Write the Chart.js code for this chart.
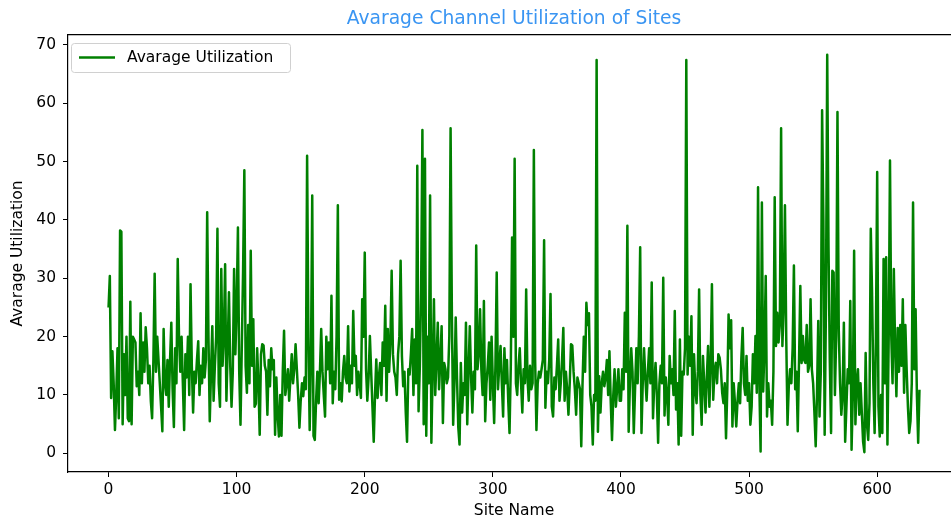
<!DOCTYPE html>
<html>
<head>
<meta charset="utf-8">
<script src="https://cdn.jsdelivr.net/npm/chart.js@4.4.1/dist/chart.umd.min.js"></script>
<style>
  html, body { margin: 0; padding: 0; background: #fff; overflow: hidden; }
  #wrap { width: 951px; height: 523px; overflow: hidden; }
</style>
</head>
<body>
<div id="wrap"><canvas id="chart" width="964" height="523"></canvas></div>
<script>
const seriesLabel = 'Avarage Utilization';
const chartTitle = 'Avarage Channel Utilization of Sites';
const xTitle = 'Site Name';
const yTitle = 'Avarage Utilization';
const xTicks = [0, 100, 200, 300, 400, 500, 600];
const yTicks = [0, 10, 20, 30, 40, 50, 60, 70];

// utilization per site, sites numbered 0..633
const utilization = [
  25, 30.4, 9.5, 17.5, 12, 4, 10, 18, 6, 38.2, 38, 5, 17, 10, 20, 6, 5.5, 26, 5, 20,
  19.5, 19, 11.5, 14, 10, 24, 12, 19, 14, 21.6, 18, 12, 15, 9, 6, 16, 30.8, 14, 20, 16,
  12, 8, 3.8, 21.3, 12, 10, 16, 8, 16, 22.4, 11, 4.5, 18, 12, 33.3, 20, 14,
  20, 12, 4, 17, 13, 20, 10, 29, 15, 7, 14, 12, 16, 19.2, 10, 15, 12, 18, 13, 16,
  41.3, 20, 5.5, 14, 21.8, 9, 15, 20, 38.5, 12, 8, 31.6, 15, 20, 32.4, 9, 18, 27.6, 15, 8,
  14, 31.6, 17, 25, 38.7, 14, 4.9, 18, 31, 48.5, 15, 10.4, 22, 12, 34.7, 15, 23, 8, 8.5, 18,
  12, 3.2, 17, 18.7, 18.5, 15,
  14, 6.6, 16, 11.5, 18, 14.4, 16, 3.2, 13, 6.6, 2.9, 10, 3, 14, 21, 10, 12, 14.4, 9, 13,
  17, 12, 14.4, 18.7, 14.4, 10, 4.4, 9, 12, 9.8, 13, 11, 51, 20, 4, 16, 44.2, 3, 2.3, 9,
  14, 8.6, 14, 21.3, 14, 10, 6.3, 20, 14.4, 19, 12, 27, 8.6, 14, 11, 20, 42.5, 9.2, 12, 8.9,
  14, 16.7,
  13, 12, 21.8, 10.6, 15, 12, 24.4, 15, 16.7, 10, 14, 12, 9.5, 26.4, 20, 34.4, 14.4, 9, 13, 20.1,
  14, 8, 2, 10, 16.1, 9.5, 13, 15.5, 10, 19, 15, 25.3, 9, 21.3, 14, 19, 31.3, 17, 14, 13,
  10, 17, 20, 33, 16.7, 11.5, 14, 7, 2, 14.4, 13.5, 17, 21.3, 10, 19.5, 12, 49.3, 7.2, 15, 28,
  55.4, 5, 50.5,
  3, 20, 12, 44.2, 1.8, 14, 26.4, 10, 16, 22.4, 11, 16, 21.8, 5.2, 15.5, 14.4, 12, 13, 20, 55.7,
  24, 4.9, 12, 23.3, 13, 4.5, 1.5, 15.5, 7, 12, 10, 22.4, 5, 14, 21.8, 13, 7, 14, 11, 35.6,
  14.4, 17, 24.7, 14.4, 10, 26.1, 5.5, 12, 15, 19, 9.2, 20, 12, 5.2, 15, 31, 11, 15, 18.4, 12,
  6.3, 18,
  12, 16, 9, 3.5, 15, 37, 20, 50.5, 12, 10, 15, 18, 12, 7, 14.4, 12, 28.1, 13, 9, 15,
  11, 12, 52, 16, 4, 12, 14, 13, 14.4, 16, 36.5, 7.8, 14, 12, 16, 27.3, 8, 6.3, 13, 11,
  15, 19.5, 9, 12, 16, 21.5, 9, 14, 11, 6.6, 12, 18.7, 18.5, 14, 11, 6.6, 13, 12, 11, 1.2,
  12, 20,
  14, 25.8, 22, 24, 10, 8, 1.5, 10, 9, 67.4, 3.7, 13.2, 7, 12, 14, 11.5, 13, 16, 10, 17.5,
  9, 2.3, 10, 14.4, 8, 11, 14.4, 9, 9, 14.4, 11, 24.1, 14, 39, 3.7, 12, 18, 14, 3.5, 11,
  18, 12, 20, 35.3, 3.5, 12, 18, 13, 9, 14, 18, 12, 29.3, 6, 12, 15.5, 10, 1.8, 12, 15,
  12, 30.1, 6.5, 13,
  10, 4.9, 16.7, 12, 14.4, 10, 24.4, 7.5, 12, 1.5, 19.5, 3, 14, 13.5, 18, 67.4, 13.5, 20, 15, 23.5,
  3.2, 17, 11, 8.6, 14, 28.1, 10, 4.9, 16.7, 12, 7, 13, 18.4, 8, 15, 29, 9.2, 14, 15.5, 12,
  17, 16.4, 14.4, 10.4, 8.6, 12, 2.6, 11, 23.8, 18, 22.8, 4.6, 12, 8.6, 4.6, 9, 12, 8.6, 16.4, 21.5,
  12, 10,
  16.7, 9, 12, 4.9, 8, 17, 12, 20.1, 10.4, 45.6, 12, 0.3, 43, 10.6, 18, 30.4, 6.3, 12, 8, 9,
  4.9, 14, 43.9, 18.4, 24.1, 19, 22, 55.7, 18.4, 25, 42.5, 20, 4.9, 11.5, 14.4, 12, 18, 32.2, 11, 14,
  3.8, 16, 28.7, 15.5, 20.1, 16, 15.5, 22, 14, 15, 26.4, 14.4, 12, 7, 1.2, 10, 22.7, 6.3, 14, 58.8,
  40, 3.2, 25, 68.3, 35.6, 16, 3.5, 31.3, 31, 10, 20, 58.5, 21.3, 12, 6.6, 10, 22.4, 2, 8, 14.4,
  12, 26.1, 0.6, 10, 34.7, 5, 12, 14.4, 6.6, 12, 7, 2, 0.2, 17.2, 5, 2.3, 8.6, 38.5, 27.5, 12,
  3.5, 20, 48.2, 8, 2.9, 10, 3.5, 33.3, 12, 33.6, 1.5, 20, 50.2, 20.1, 12, 31.6, 18, 9.8, 21.5, 14,
  22, 15, 26.4, 10.4, 22, 14.4, 8, 3.5, 5.5, 12, 43, 14.4, 24.7, 10, 1.8, 10.9
];

const points = utilization.map((v, i) => ({ x: i, y: v }));

// autoscale with 5% margins on both axes
const lastX = utilization.length - 1;
const xPad = lastX * 0.05;
const yMin = Math.min(...utilization), yMax = Math.max(...utilization);
const yPad = (yMax - yMin) * 0.05;

const font = 'DejaVu Sans';
const lineColor = '#008000';

// boxed legend in the upper left corner of the plot
const boxLegend = {
  id: 'boxLegend',
  afterDraw(chart) {
    const { ctx, chartArea } = chart;
    const x = chartArea.left + 3, y = chartArea.top + 8, w = 219, h = 29;
    ctx.save();
    ctx.fillStyle = 'rgba(255,255,255,0.8)';
    ctx.strokeStyle = '#d0d0d0';
    ctx.lineWidth = 1;
    ctx.beginPath();
    ctx.roundRect(x + 0.5, y + 0.5, w, h, 3);
    ctx.fill();
    ctx.stroke();
    ctx.strokeStyle = lineColor;
    ctx.lineWidth = 2.5;
    ctx.beginPath();
    ctx.moveTo(x + 8, y + 14.5);
    ctx.lineTo(x + 44, y + 14.5);
    ctx.stroke();
    ctx.fillStyle = '#000';
    ctx.font = '15.5px "' + font + '"';
    ctx.textBaseline = 'middle';
    ctx.fillText(seriesLabel, x + 56, y + 15);
    ctx.restore();
  }
};

new Chart(document.getElementById('chart'), {
  type: 'line',
  data: {
    datasets: [{
      label: seriesLabel,
      data: points,
      borderColor: lineColor,
      borderWidth: 2.5,
      borderJoinStyle: 'round',
      pointRadius: 0,
      tension: 0,
      xAxisID: 'x',
      yAxisID: 'y'
    }]
  },
  options: {
    responsive: false,
    animation: false,
    devicePixelRatio: 1,
    layout: { padding: { left: 0, right: 4, top: 0, bottom: 0 } },
    plugins: {
      legend: { display: false },
      title: { display: false },
      tooltip: { enabled: false }
    },
    scales: {
      x: {
        type: 'linear',
        position: 'bottom',
        min: -xPad,
        max: lastX + xPad,
        afterBuildTicks: s => { s.ticks = xTicks.map(v => ({ value: v })); },
        afterFit: s => { s.height = 51; },
        grid: { drawOnChartArea: false, tickLength: 5, color: '#000' },
        border: { color: '#000', width: 1.2 },
        ticks: { color: '#000', padding: 4, maxRotation: 0, font: { family: font, size: 15.5 } },
        title: { display: true, text: xTitle, color: '#000', padding: { top: 0, bottom: 3 }, font: { family: font, size: 15.5 } }
      },
      top: {
        type: 'linear',
        axis: 'x',
        position: 'top',
        min: -xPad,
        max: lastX + xPad,
        afterFit: s => { s.height = 35; },
        grid: { drawOnChartArea: false, drawTicks: false },
        border: { color: '#000', width: 1.2 },
        ticks: { display: false },
        title: { display: true, text: chartTitle, color: '#3a95f2', padding: { top: 8, bottom: 0 }, font: { family: font, size: 18.7 } }
      },
      y: {
        type: 'linear',
        position: 'left',
        min: yMin - yPad,
        max: yMax + yPad,
        afterBuildTicks: s => { s.ticks = yTicks.map(v => ({ value: v })); },
        afterFit: s => { s.width = 68; },
        grid: { drawOnChartArea: false, tickLength: 5, color: '#000' },
        border: { color: '#000', width: 1.2 },
        ticks: { color: '#000', padding: 7, font: { family: font, size: 15.5 } },
        title: { display: true, text: yTitle, color: '#000', padding: { top: 9, bottom: 0 }, font: { family: font, size: 15.5 } }
      }
    }
  },
  plugins: [boxLegend]
});
</script>
</body>
</html>
